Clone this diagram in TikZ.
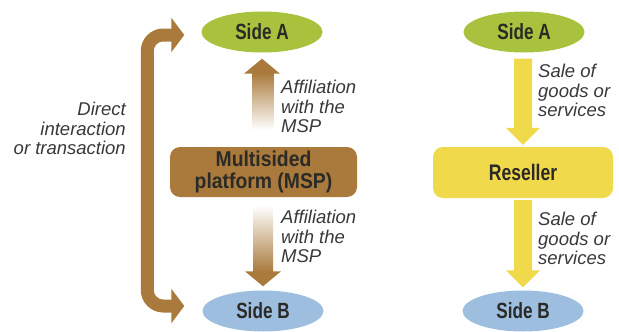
\documentclass[tikz,border=0pt]{standalone}
\usepackage{fontspec}
\setmainfont{Liberation Sans}
\newfontfamily\labelfont{Liberation Sans Bold}[FakeStretch=0.78]
\newfontfamily\platformfont{Liberation Sans Bold}[FakeStretch=0.9]
\usetikzlibrary{calc,shapes.geometric,arrows.meta}

\definecolor{mspbrown}{HTML}{A97A3B}
\definecolor{sidegreen}{HTML}{A8C23E}
\definecolor{sideblue}{HTML}{9DBEDF}
\definecolor{resyellow}{HTML}{F0D94B}
\definecolor{inkdark}{HTML}{2B2A26}
\definecolor{notegray}{HTML}{383838}

\begin{document}
\begin{tikzpicture}[x=1pt,y=-1pt,
  side/.style={ellipse, minimum width=121pt, minimum height=41pt, inner sep=0pt,
    font=\labelfont\fontsize{22}{24}\selectfont, text=inkdark},
  platform/.style={rectangle, rounded corners=10pt, inner sep=0pt, align=center,
    text=inkdark},
  note/.style={inner sep=0pt, font=\itshape\fontsize{18.5}{19.5}\selectfont, text=notegray},
  bracket/.style={draw=mspbrown, line width=13pt, rounded corners=16pt,
    {Triangle[length=13pt,width=34pt]}-{Triangle[length=13pt,width=34pt]}}
]
\useasboundingbox (0,0) rectangle (619,332);

% ---- multisided platform column ----
\node[side, fill=sidegreen] (A1) at (262,32) {Side A};
\node[side, fill=sideblue]  (B1) at (263,311) {Side B};
\node[platform, fill=mspbrown, minimum width=187pt, minimum height=50pt,
  font=\platformfont\fontsize{21.5}{22}\selectfont]
  (msp) at (263.5,172) {Multisided\\platform (MSP)};

% affiliation arrows fading towards the platform
\coordinate (u0) at ($(msp.north)+(0,-17)$);
\coordinate (u1) at ($(A1.south)+(0,6)$);
\shade[top color=mspbrown, bottom color=white]
  ($(u1)+(-10,14)$) rectangle ($(u0)+(10,0)$);
\fill[mspbrown] (u1) -- ++(18,15) -- ++(-36,0) -- cycle;

\coordinate (d0) at ($(msp.south)+(0,8)$);
\coordinate (d1) at ($(B1.north)+(0,-4)$);
\shade[top color=white, bottom color=mspbrown]
  ($(d0)+(-10,0)$) rectangle ($(d1)+(10,-14)$);
\fill[mspbrown] (d1) -- ++(18,-15) -- ++(-36,0) -- cycle;

% direct interaction bracket between the two sides
\coordinate (bt) at ($(A1.west)+(-17,3)$);
\coordinate (bb) at ($(B1.west)+(-18,-5)$);
\draw[bracket] (bt) -- ++(-37,0) |- (bb);

\node[note, anchor=north east, align=right] (direct) at (126,102)
  {Direct\\interaction\\or transaction};
\node[note, anchor=north west, align=left] (aff1) at (281,80)
  {Affiliation\\with the\\MSP};
\node[note, anchor=north west, align=left] (aff2) at (281,210)
  {Affiliation\\with the\\MSP};

% ---- reseller column ----
\node[side, fill=sidegreen] (A2) at (524,32) {Side A};
\node[side, fill=sideblue]  (B2) at (523,311) {Side B};
\node[platform, fill=resyellow, minimum width=180pt, minimum height=51pt,
  font=\labelfont\fontsize{22.5}{24}\selectfont]
  (res) at (523,172.5) {Reseller};

\coordinate (s0) at ($(A2.south)+(-1,6)$);
\coordinate (s1) at ($(res.north)+(0,-2)$);
\fill[resyellow] ($(s0)+(-9,0)$) -- ($(s1)+(-9,-17)$) -- ($(s1)+(-17,-17)$) -- (s1)
  -- ($(s1)+(17,-17)$) -- ($(s1)+(9,-17)$) -- ($(s0)+(9,0)$) -- cycle;

\coordinate (t0) at ($(res.south)+(0,2)$);
\coordinate (t1) at ($(B2.north)+(0,-3)$);
\fill[resyellow] ($(t0)+(-9,0)$) -- ($(t1)+(-9,-17)$) -- ($(t1)+(-17,-17)$) -- (t1)
  -- ($(t1)+(17,-17)$) -- ($(t1)+(9,-17)$) -- ($(t0)+(9,0)$) -- cycle;

\node[note, anchor=north west, align=left] (sale1) at (538,64)
  {Sale of\\goods or\\services};
\node[note, anchor=north west, align=left] (sale2) at (538,212)
  {Sale of\\goods or\\services};
\end{tikzpicture}
\end{document}
